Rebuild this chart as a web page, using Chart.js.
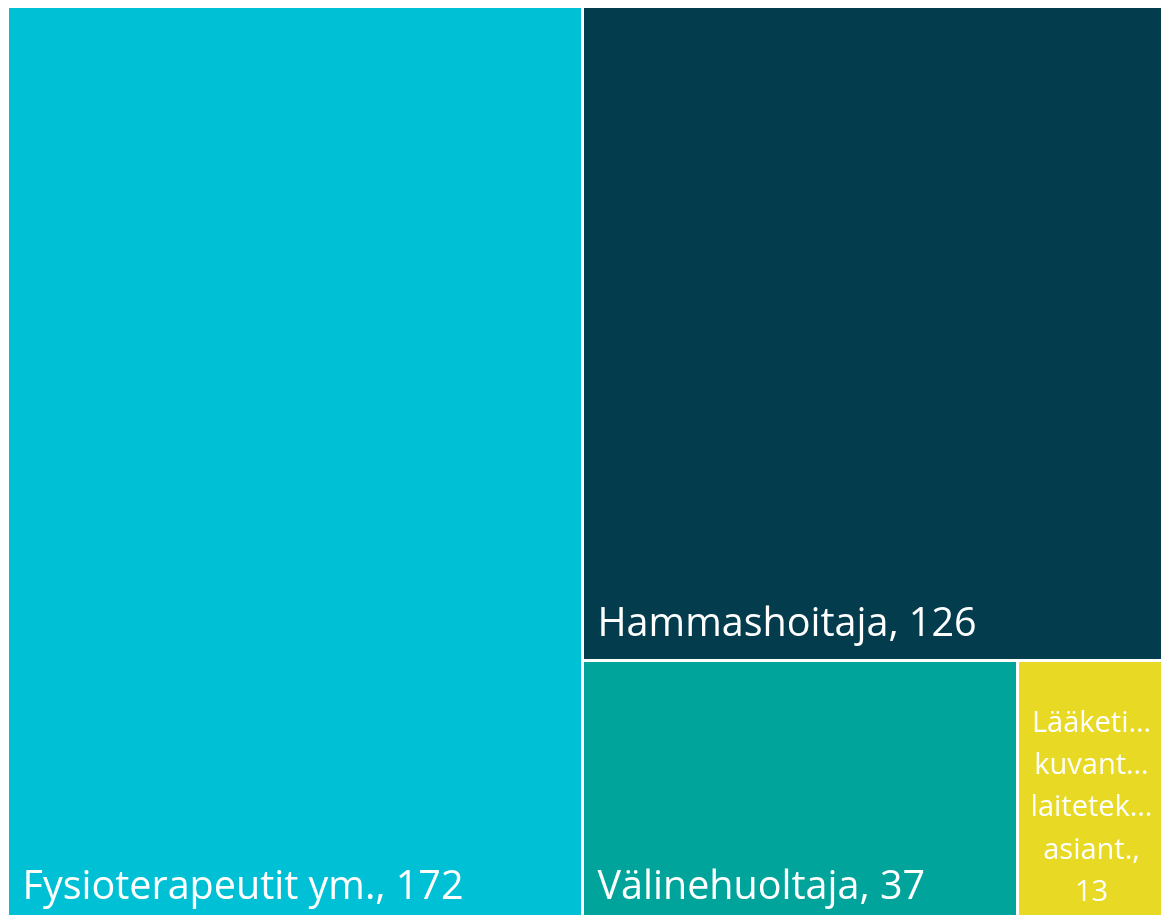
<!DOCTYPE html>
<html>
<head>
<meta charset="utf-8">
<script src="https://cdn.jsdelivr.net/npm/chart.js@4.4.1/dist/chart.umd.min.js"></script>
<style>
html,body{margin:0;padding:0;background:#fff;overflow:hidden;}
#wrap{width:1161px;height:915px;position:relative;overflow:hidden;}
#c{position:absolute;left:0;top:0;}
</style>
</head>
<body>
<div id="wrap"><canvas id="c" width="1172" height="922"></canvas></div>
<script>
const categories = ['Fysioterapeutit ym.', 'Hammashoitaja', 'Välinehuoltaja', 'Lääketi… kuvant… laitetek… asiant.'];
const values = [172, 126, 37, 13];
const colors = ['#00C0D6', '#023C4D', '#00A49B', '#E8DA24'];

function worst(row, side) {
  const s = row.reduce((a, b) => a + b, 0);
  let mx = 0;
  for (const r of row) {
    const a = (side * side * r) / (s * s), b = (s * s) / (side * side * r);
    mx = Math.max(mx, a, b);
  }
  return mx;
}
function squarify(vals, x, y, w, h) {
  const total = vals.reduce((a, b) => a + b, 0);
  const areas = vals.map(v => v / total * w * h);
  const out = [];
  let i = 0;
  while (i < areas.length) {
    const side = Math.min(w, h);
    let row = [areas[i]];
    let j = i + 1;
    while (j < areas.length && worst(row.concat([areas[j]]), side) <= worst(row, side)) {
      row.push(areas[j]); j++;
    }
    const s = row.reduce((a, b) => a + b, 0);
    if (w >= h) {
      const cw = s / h; let cy = y;
      row.forEach(a => { const ch = a / cw; out.push({x0: x, x1: x + cw, y0: cy, y1: cy + ch}); cy += ch; });
      x += cw; w -= cw;
    } else {
      const rh = s / w; let cx = x;
      row.forEach(a => { const rw = a / rh; out.push({x0: cx, x1: cx + rw, y0: y, y1: y + rh}); cx += rw; });
      y += rh; h -= rh;
    }
    i = j;
  }
  return out;
}

const FONT = '"Segoe UI", "Open Sans", sans-serif';
const treemapPlugin = {
  id: 'treemap',
  afterDatasetsDraw(chart) {
    const ctx = chart.ctx;
    const xs = chart.scales.x, ys = chart.scales.y;
    const aw = xs.max - xs.min, ah = ys.max - ys.min;
    const px = xs.getPixelForValue(xs.max) - xs.getPixelForValue(xs.min);
    const py = ys.getPixelForValue(ys.min) - ys.getPixelForValue(ys.max);
    const rects = squarify(values, 0, 0, px, py).map(r => ({
      x0: xs.min + r.x0 / px * aw, x1: xs.min + r.x1 / px * aw,
      y0: ys.max - r.y0 / py * ah, y1: ys.max - r.y1 / py * ah
    }));
    const gap = 3;
    const R = xs.getPixelForValue(xs.max);
    const B = ys.getPixelForValue(ys.min);
    rects.forEach((r, k) => {
      let l = xs.getPixelForValue(r.x0), rr = xs.getPixelForValue(r.x1);
      let t = ys.getPixelForValue(r.y0), b = ys.getPixelForValue(r.y1);
      if (rr < R - 1) rr -= gap;
      if (b < B - 1) b -= gap;
      l = Math.round(l); rr = Math.round(rr); t = Math.round(t); b = Math.round(b);
      ctx.save();
      ctx.fillStyle = colors[k];
      ctx.fillRect(l, t, rr - l, b - t);
      const label = categories[k] + ', ' + values[k];
      ctx.fillStyle = '#ffffff';
      const w = rr - l;
      ctx.font = '39.5px ' + FONT;
      if (ctx.measureText(label).width + 26 <= w) {
        ctx.textAlign = 'left'; ctx.textBaseline = 'alphabetic';
        ctx.fillText(label, l + 13.5, b - 23);
      } else {
        ctx.font = '29px ' + FONT;
        const lines = label.split(' ');
        const lh = 42.25;
        ctx.textAlign = 'center'; ctx.textBaseline = 'middle';
        const cx = (l + rr) / 2 - 4;
        const cy = (t + b) / 2 + 16;
        lines.forEach((ln, n) => {
          ctx.fillText(ln, cx, cy + (n - (lines.length - 1) / 2) * lh);
        });
      }
      ctx.restore();
    });
  }
};

new Chart(document.getElementById('c'), {
  type: 'scatter',
  data: { datasets: [{ label: 'Ammattiryhmät', data: [] }] },
  options: {
    responsive: false,
    animation: false,
    layout: { padding: { left: 9, top: 8, right: 0, bottom: 0 } },
    plugins: { legend: { display: false }, tooltip: { enabled: false } },
    scales: {
      x: { type: 'linear', min: 0, max: 1, display: false },
      y: { type: 'linear', min: 0, max: 1, display: false }
    }
  },
  plugins: [treemapPlugin]
});
</script>
</body>
</html>
